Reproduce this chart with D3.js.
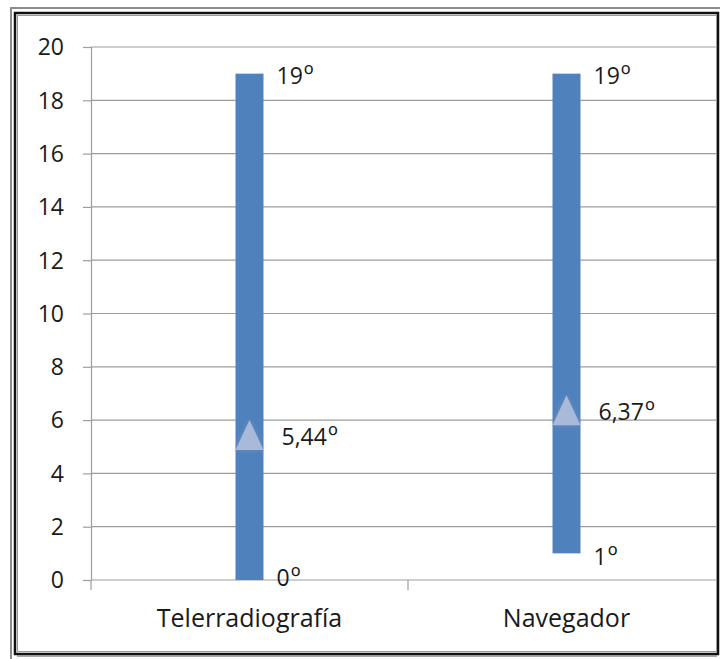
<!DOCTYPE html>
<html>
<head>
<meta charset="utf-8">
<script src="https://cdn.jsdelivr.net/npm/d3@7"></script>
<style>
  html, body { margin: 0; padding: 0; background: #fff; }
  svg { display: block; }
  text { font-family: "Open Sans", Lato, sans-serif; fill: #1a1a1a; }
</style>
</head>
<body>
<script>
// Range of angles per method: minimum, maximum and mean
const categories = ["Telerradiografía", "Navegador"];
const minValues = [0, 1];
const maxValues = [19, 19];
const meanValues = [5.44, 6.37];
const yTicks = [0, 2, 4, 6, 8, 10, 12, 14, 16, 18, 20];

const W = 720, H = 659;
const FS = 23;
const svg = d3.select("body").append("svg").attr("width", W).attr("height", H);

const defs = svg.append("defs");
defs.append("clipPath").attr("id", "frameClip")
  .append("rect").attr("x", 0).attr("y", 0).attr("width", 716).attr("height", H);
const glow = defs.append("filter").attr("id", "soft").attr("x", "-50%").attr("y", "-50%")
  .attr("width", "200%").attr("height", "200%");
glow.append("feGaussianBlur").attr("in", "SourceAlpha").attr("stdDeviation", 2.5).attr("result", "b");
glow.append("feFlood").attr("flood-color", "#9aa3b3").attr("flood-opacity", 0.45);
glow.append("feComposite").attr("in2", "b").attr("operator", "in").attr("result", "s");
const m = glow.append("feMerge");
m.append("feMergeNode").attr("in", "s");
m.append("feMergeNode").attr("in", "SourceGraphic");

// Frame
svg.append("rect").attr("x", 11).attr("y", 8).attr("width", 720).attr("height", 700)
  .attr("fill", "none").attr("stroke", "#8c8c8c").attr("stroke-width", 2);
svg.append("rect").attr("x", 15).attr("y", 13).attr("width", 703).attr("height", 641)
  .attr("fill", "#fff").attr("stroke", "#111").attr("stroke-width", 2.5);
svg.append("line").attr("x1", 17).attr("x2", 717).attr("y1", 656).attr("y2", 656)
  .attr("stroke", "#8c8c8c").attr("stroke-width", 1.5);
svg.append("rect").attr("x", 17.5).attr("y", 15.5).attr("width", 699).attr("height", 636)
  .attr("fill", "none").attr("stroke", "#9a9a9a").attr("stroke-width", 1);

const plotLeft = 91, plotRight = 725, plotTop = 47, plotBottom = 580;
const x = d3.scaleBand().domain(categories).range([plotLeft, plotRight]).padding(0);
const y = d3.scaleLinear().domain([0, 20]).range([plotBottom, plotTop]);

const plot = svg.append("g").attr("clip-path", "url(#frameClip)");

// Gridlines
plot.append("g").selectAll("line").data(yTicks.filter(d => d > 0)).join("line")
  .attr("x1", plotLeft).attr("x2", plotRight)
  .attr("y1", d => y(d)).attr("y2", d => y(d))
  .attr("stroke", "#9d9d9d").attr("stroke-width", 1.2);

// Y axis
const yAxis = d3.axisLeft(y).tickValues(yTicks).tickSize(8).tickPadding(19);
const yg = plot.append("g").attr("transform", `translate(${plotLeft},0)`).call(yAxis);
yg.select(".domain").attr("stroke", "#9d9d9d").attr("stroke-width", 1.2);
yg.selectAll(".tick line").attr("stroke", "#9d9d9d").attr("stroke-width", 1.2);
yg.selectAll(".tick text").attr("font-size", FS).attr("font-family", "'Open Sans', sans-serif")
  .attr("fill", "#1a1a1a").attr("dy", "0.34em");

// X axis
const xg = plot.append("g").attr("transform", `translate(0,${plotBottom})`);
xg.append("line").attr("x1", plotLeft).attr("x2", plotRight).attr("y1", 0).attr("y2", 0)
  .attr("stroke", "#9d9d9d").attr("stroke-width", 1.2);
const bounds = [plotLeft, plotLeft + x.bandwidth(), plotLeft + 2 * x.bandwidth()];
xg.selectAll("line.tk").data(bounds).join("line").attr("class", "tk")
  .attr("x1", d => d).attr("x2", d => d).attr("y1", 0).attr("y2", 10)
  .attr("stroke", "#9d9d9d").attr("stroke-width", 1.2);
xg.selectAll("text").data(categories).join("text")
  .attr("x", d => x(d) + x.bandwidth() / 2).attr("y", 47)
  .attr("text-anchor", "middle").attr("font-size", 25).text(d => d);

const barW = 28;
const cx = i => x(categories[i]) + x.bandwidth() / 2;
const idx = d3.range(categories.length);
const num = v => String(v).replace(".", ",");

// Range bars
plot.append("g").selectAll("rect").data(idx).join("rect")
  .attr("x", i => cx(i) - barW / 2).attr("width", barW)
  .attr("y", i => y(maxValues[i])).attr("height", i => y(minValues[i]) - y(maxValues[i]))
  .attr("fill", "#4f81bd");

// Mean markers
plot.append("g").selectAll("path").data(idx).join("path")
  .attr("d", i => {
    const c = cx(i), v = y(meanValues[i]);
    return `M${c - 14},${v + 15}L${c},${v - 15}L${c + 14},${v + 15}Z`;
  })
  .attr("fill", "#a9b9d9").attr("filter", "url(#soft)");

// Value labels with degree sign
const lab = plot.append("g").attr("font-size", FS);
function addLabel(xp, yp, v) {
  const t = lab.append("text").attr("x", xp).attr("y", yp);
  t.append("tspan").text(num(v));
  t.append("tspan").attr("dx", 1).attr("font-size", FS * 1.15).text("º");
}
idx.forEach(i => {
  const c = cx(i);
  addLabel(c + 27, y(maxValues[i]) + 10, maxValues[i]);
  addLabel(c + 27, y(minValues[i]) + (minValues[i] ? 12 : 6), minValues[i]);
  addLabel(c + 32, y(meanValues[i]) + 10, meanValues[i]);
});
</script>
</body>
</html>
